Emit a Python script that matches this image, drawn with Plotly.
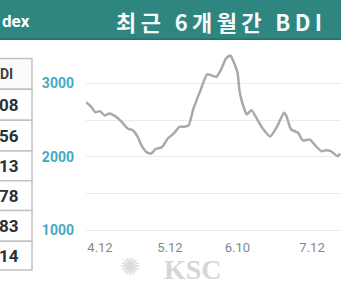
import plotly.graph_objects as go

W, H = 341, 286

# ---- data ----
dates = ["2022-04-06", "2022-04-08", "2022-04-10", "2022-04-12", "2022-04-14", "2022-04-16",
         "2022-04-18", "2022-04-21", "2022-04-24", "2022-04-26", "2022-04-28", "2022-04-30",
         "2022-05-02", "2022-05-04", "2022-05-06", "2022-05-08", "2022-05-09", "2022-05-11",
         "2022-05-14", "2022-05-16", "2022-05-18", "2022-05-20", "2022-05-22", "2022-05-25",
         "2022-05-28", "2022-05-30", "2022-06-01", "2022-06-03", "2022-06-05", "2022-06-07",
         "2022-06-08", "2022-06-10", "2022-06-11", "2022-06-13", "2022-06-14", "2022-06-16",
         "2022-06-18", "2022-06-21", "2022-06-24", "2022-06-27", "2022-06-30", "2022-07-01",
         "2022-07-03", "2022-07-06", "2022-07-08", "2022-07-11", "2022-07-13", "2022-07-16",
         "2022-07-18", "2022-07-20", "2022-07-23", "2022-07-24"]
bdi = [2745, 2690, 2608, 2622, 2564, 2591,
       2564, 2486, 2382, 2363, 2281, 2145,
       2063, 2045, 2109, 2123, 2145, 2246,
       2328, 2409, 2409, 2427, 2645, 2895,
       3123, 3109, 3091, 3191, 3337, 3382,
       3318, 3146, 2873, 2645, 2577, 2636,
       2536, 2379, 2277, 2413, 2600, 2554,
       2373, 2328, 2223, 2236, 2168, 2077,
       2090, 2077, 2008, 2045]

x_tick_dates = ["2022-04-12", "2022-05-12", "2022-06-10", "2022-07-12"]
x_tick_labels = ["4.12", "5.12", "6.10", "7.12"]
y_tick_vals = [1000, 1500, 2000, 2500, 3000]
y_tick_labels = ["1000", "", "2000", "", "3000"]

title_text = "최근 6개월간 BDI"
left_header = "dex"
table_header = "DI"
table_values = ["08", "56", "13", "78", "83", "14"]
watermark = "KSC"

# ---- helpers (pixel -> paper) ----
def px(x):
    return x / W

def py(y):
    return 1 - y / H

fig = go.Figure()
fig.add_trace(go.Scatter(
    x=dates, y=bdi, mode="lines",
    line=dict(color="#a9a9a9", width=2.5, shape="spline", smoothing=0.6),
    hoverinfo="skip", showlegend=False,
))

shapes = []
# header band
shapes.append(dict(type="rect", xref="paper", yref="paper", x0=0, x1=1, y0=py(40), y1=1,
                   fillcolor="#2f8580", line=dict(width=0), layer="below"))
shapes.append(dict(type="line", xref="paper", yref="paper", x0=0, x1=1, y0=py(39.5), y1=py(39.5),
                   line=dict(color="#26706b", width=1.5)))
# table cells
row_edges = [59, 90, 121, 152, 182, 212, 243, 272]
for i in range(len(row_edges) - 1):
    shapes.append(dict(type="rect", xref="paper", yref="paper",
                       x0=px(-3), x1=px(32), y0=py(row_edges[i + 1]), y1=py(row_edges[i]),
                       fillcolor="#fbfbfb" if i == 0 else "#ffffff",
                       line=dict(color="#c2c2c2", width=1.5)))

annotations = []
annotations.append(dict(text=left_header, xref="paper", yref="paper", x=px(0), y=py(21),
                        xanchor="left", yanchor="middle", showarrow=False,
                        font=dict(family="Roboto", size=17, color="#ffffff", weight="bold")))
annotations.append(dict(text="\u2009".join(title_text), xref="paper", yref="paper",
                        x=px(218.5), y=py(21.5), xanchor="center", yanchor="middle", showarrow=False,
                        font=dict(family="Noto Sans CJK KR", size=22, color="#f4fbfa", weight="bold")))
annotations.append(dict(text=table_header, xref="paper", yref="paper", x=px(15),
                        y=py((row_edges[0] + row_edges[1]) / 2), xanchor="right", yanchor="middle",
                        showarrow=False,
                        font=dict(family="Roboto", size=14, color="#3a3f42", weight="bold")))
for i, v in enumerate(table_values):
    annotations.append(dict(text=v, xref="paper", yref="paper", x=px(20.5),
                            y=py((row_edges[i + 1] + row_edges[i + 2]) / 2), xanchor="right",
                            yanchor="middle", showarrow=False,
                            font=dict(family="Roboto", size=17, color="#273136", weight="bold")))
# watermark
annotations.append(dict(text="\u273a", xref="paper", yref="paper", x=px(130), y=py(269),
                        xanchor="center", yanchor="middle", showarrow=False,
                        font=dict(family="DejaVu Sans", size=24, color="#dcdcdc")))
annotations.append(dict(text=watermark, xref="paper", yref="paper", x=px(193), y=py(271.5),
                        xanchor="center", yanchor="middle", showarrow=False,
                        font=dict(family="Liberation Serif", size=28, color="#d6d6d6", weight="bold")))

fig.update_layout(
    width=W, height=H,
    margin=dict(l=0, r=0, t=0, b=0),
    paper_bgcolor="#ffffff", plot_bgcolor="#ffffff",
    shapes=shapes, annotations=annotations,
    xaxis=dict(type="date", domain=[px(86), 1],
               range=["2022-04-05 23:45", "2022-07-24 10:19"],
               tickvals=x_tick_dates, ticktext=x_tick_labels,
               tickfont=dict(family="Roboto", size=13, color="#80888c"),
               showgrid=False, zeroline=False, showline=False, ticks="",
               ticklabelstandoff=2),
    yaxis=dict(domain=[py(238), py(42)], range=[915, 3569],
               tickvals=y_tick_vals, ticktext=y_tick_labels,
               tickfont=dict(family="Roboto", size=14, color="#45a9c5", weight="bold"),
               showgrid=True, gridcolor="#ebebeb", gridwidth=1,
               zeroline=False, showline=False, ticks="", ticklabelstandoff=11),
)

fig.write_html("out.html")
